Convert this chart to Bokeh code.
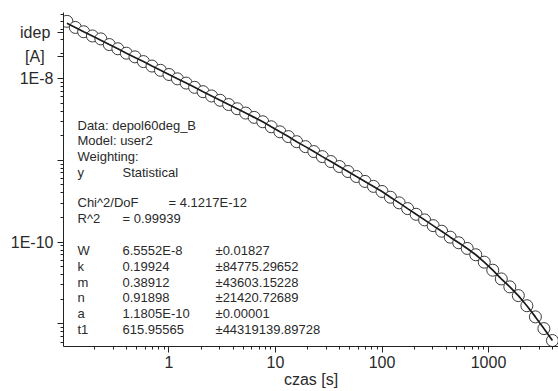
from bokeh.plotting import figure
from bokeh.models import FixedTicker, CustomJSTickFormatter, Label, ColumnDataSource
from bokeh.embed import file_html
from bokeh.resources import INLINE

# ---- data ----
time_s = [0.110, 0.132, 0.158, 0.191, 0.229, 0.275, 0.331, 0.398, 0.479, 0.575,
          0.692, 0.832, 1.00, 1.20, 1.45, 1.74, 2.09, 2.51, 3.02, 3.63,
          4.37, 5.25, 6.31, 7.59, 9.12, 11.0, 13.2, 15.8, 19.1, 22.9,
          27.5, 33.1, 39.8, 47.9, 57.5, 69.2, 83.2, 100, 120, 145,
          174, 209, 251, 302, 363, 437, 525, 631, 759, 912,
          1096, 1318, 1585, 1905, 2291, 2754, 3311, 3981]

idep_meas = [5.00e-8, 4.21e-8, 3.73e-8, 3.31e-8, 3.05e-8, 2.60e-8, 2.31e-8, 2.04e-8, 1.84e-8, 1.61e-8,
             1.42e-8, 1.26e-8, 1.12e-8, 9.91e-9, 8.79e-9, 7.80e-9, 6.90e-9, 6.12e-9, 5.42e-9, 4.81e-9,
             4.27e-9, 3.78e-9, 3.35e-9, 2.96e-9, 2.57e-9, 2.23e-9, 1.95e-9, 1.69e-9, 1.47e-9, 1.28e-9,
             1.11e-9, 9.66e-10, 8.40e-10, 7.30e-10, 6.34e-10, 5.52e-10, 4.80e-10, 4.16e-10, 3.54e-10, 3.02e-10,
             2.57e-10, 2.19e-10, 1.87e-10, 1.59e-10, 1.36e-10, 1.15e-10, 9.82e-11, 8.37e-11, 7.01e-11, 5.69e-11,
             4.54e-11, 3.55e-11, 2.84e-11, 2.22e-11, 1.67e-11, 1.22e-11, 8.77e-12, 6.27e-12]

idep_fit = [4.75e-8, 4.21e-8, 3.73e-8, 3.31e-8, 2.93e-8, 2.60e-8, 2.31e-8, 2.04e-8, 1.81e-8, 1.61e-8,
            1.42e-8, 1.26e-8, 1.12e-8, 9.91e-9, 8.79e-9, 7.80e-9, 6.90e-9, 6.12e-9, 5.42e-9, 4.81e-9,
            4.27e-9, 3.78e-9, 3.35e-9, 2.96e-9, 2.57e-9, 2.23e-9, 1.95e-9, 1.69e-9, 1.47e-9, 1.28e-9,
            1.11e-9, 9.66e-10, 8.40e-10, 7.30e-10, 6.34e-10, 5.52e-10, 4.80e-10, 4.16e-10, 3.54e-10, 3.02e-10,
            2.57e-10, 2.19e-10, 1.87e-10, 1.59e-10, 1.36e-10, 1.15e-10, 9.82e-11, 8.37e-11, 7.01e-11, 5.69e-11,
            4.54e-11, 3.55e-11, 2.84e-11, 2.22e-11, 1.67e-11, 1.22e-11, 8.77e-12, 6.27e-12]

x_major_ticks = [1, 10, 100, 1000]
y_major_ticks = [1e-11, 1e-10, 1e-9, 1e-8]
# the y title sits beside the axis, at these two heights of the y scale
y_title_ticks = [3.65e-8, 1.86e-8]

header_lines = ["Data: depol60deg_B", "Model: user2", "Weighting:"]
weight_row = ["y", "Statistical"]
chi_row = ["Chi^2/DoF", "= 4.1217E-12"]
r2_row = ["R^2", "=  0.99939"]
param_names = ["W", "k", "m", "n", "a", "t1"]
param_values = ["6.5552E-8", "0.19924", "0.38912", "0.91898", "1.1805E-10", "615.95565"]
param_errors = ["\u00b10.01827", "\u00b184775.29652", "\u00b143603.15228", "\u00b121420.72689",
                "\u00b10.00001", "\u00b144319139.89728"]

x_title = "czas [s]"
y_title = ["idep", "[A]"]

# ---- figure ----
FONT = "Liberation Sans"
TXT = "#2a2a2a"

p = figure(width=558, height=391, x_axis_type="log", y_axis_type="log",
           x_range=(0.1022, 4540), y_range=(5.30e-12, 6.41e-8),
           output_backend="svg", toolbar_location=None,
           min_border_left=63, min_border_right=0, min_border_top=12, min_border_bottom=45)
p.outline_line_color = None
p.grid.visible = False
p.background_fill_color = "white"
p.border_fill_color = "white"

x_minor = []
for dec in [0.1, 1, 10, 100, 1000]:
    for m in range(2, 10):
        x_minor.append(dec * m)
y_minor = []
for dec in [1e-12, 1e-11, 1e-10, 1e-9, 1e-8]:
    for m in range(2, 10):
        y_minor.append(dec * m)

p.xaxis.ticker = FixedTicker(ticks=x_major_ticks, minor_ticks=x_minor)
p.yaxis.ticker = FixedTicker(ticks=y_major_ticks + y_title_ticks, minor_ticks=y_minor)
p.xaxis.formatter = CustomJSTickFormatter(code="return String(Math.round(tick));")
p.yaxis.formatter = CustomJSTickFormatter(
    args=dict(t0=y_title[0], t1=y_title[1]),
    code="""
const e = Math.log10(tick);
const r = Math.round(e);
if (Math.abs(e - r) < 1e-6) { return (Math.abs(r) % 2 === 0) ? '1E' + r : ''; }
return tick > 2.6e-8 ? t0 + '\\u2009' : t1 + '\\u00a0\\u00a0';
""")

for ax in (p.xaxis, p.yaxis):
    ax.axis_line_color = "#222222"
    ax.axis_line_width = 1
    ax.major_tick_line_color = "#222222"
    ax.minor_tick_line_color = "#222222"
    ax.major_tick_in = 0
    ax.minor_tick_in = 0
    ax.major_tick_out = 6
    ax.minor_tick_out = 3
    ax.major_label_text_font = FONT
    ax.major_label_text_font_size = "16px"
    ax.major_label_text_color = TXT
p.xaxis.major_label_standoff = 3
p.yaxis.major_label_standoff = 4
p.xaxis.axis_label = x_title
p.xaxis.axis_label_text_font = FONT
p.xaxis.axis_label_text_font_size = "16px"
p.xaxis.axis_label_text_font_style = "normal"
p.xaxis.axis_label_text_color = TXT
p.xaxis.axis_label_standoff = 0

# data
src = ColumnDataSource(dict(t=time_s, meas=idep_meas, fit=idep_fit))
p.scatter("t", "meas", source=src, marker="circle", size=12, fill_color="white",
          line_color="#3a3a3a", line_width=1)
p.line("t", "fit", source=src, line_color="#1a1a1a", line_width=1.7)

# ---- text block (frame pixels; frame left at x=63, bottom at y=346 of the picture) ----
def lab(text, px, py, size="13px", align="left"):
    p.add_layout(Label(x=px - 63, y=346 - py, x_units="screen", y_units="screen",
                       text=text, text_font=FONT, text_font_size=size, text_color=TXT,
                       text_align=align, text_baseline="middle"))

col1, col2, col3 = 77, 122, 215
ys_header = [125, 140, 155.5]
for s, yy in zip(header_lines, ys_header):
    lab(s, col1, yy)
lab(weight_row[0], col1, 171.5)
lab(weight_row[1], col2, 171.5)
lab(chi_row[0], col1, 202)
lab(chi_row[1], 168, 202)
lab(r2_row[0], col1, 218)
lab(r2_row[1], col2, 218)
ys_param = [250, 266, 281.5, 297, 313, 328.5]
for nme, v, e, yy in zip(param_names, param_values, param_errors, ys_param):
    lab(nme, col1, yy)
    lab(v, col2, yy)
    lab(e, col3, yy)

open("out.html", "w").write(file_html(p, INLINE))
